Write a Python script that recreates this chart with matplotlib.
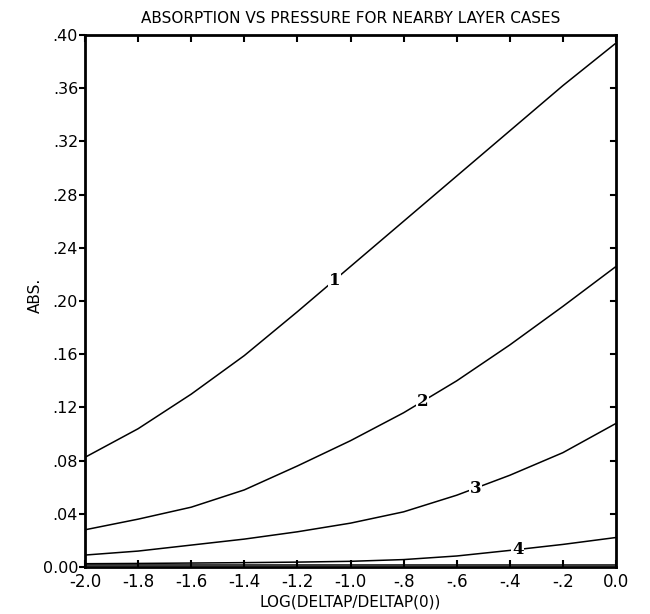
import matplotlib
matplotlib.use("Agg")
import matplotlib.pyplot as plt
import numpy as np

# log(deltap/deltap(0)) grid
log_ratio = [-2.0, -1.8, -1.6, -1.4, -1.2, -1.0, -0.8, -0.6, -0.4, -0.2, 0.0]

# absorption for the four nearby layer cases
abs_case1 = [0.0825, 0.104, 0.130, 0.159, 0.192, 0.226, 0.260, 0.294, 0.328, 0.362, 0.394]
abs_case2 = [0.028, 0.036, 0.045, 0.058, 0.076, 0.095, 0.116, 0.140, 0.167, 0.196, 0.226]
abs_case3 = [0.009, 0.012, 0.0165, 0.021, 0.0265, 0.033, 0.0415, 0.054, 0.069, 0.086, 0.108]
abs_case4 = [0.0025, 0.0027, 0.003, 0.0033, 0.0037, 0.0043, 0.0056, 0.0083, 0.0125, 0.017, 0.0222]
abs_floor = [0.0012, 0.0012, 0.0012, 0.0012, 0.0012, 0.0012, 0.0012, 0.0012, 0.0012, 0.0012, 0.0012]

case_names = ["1", "2", "3", "4"]
label_x = [-1.06, -0.73, -0.53, -0.37]

xticks = [-2.0, -1.8, -1.6, -1.4, -1.2, -1.0, -0.8, -0.6, -0.4, -0.2, 0.0]
xtick_labels = ["-2.0", "-1.8", "-1.6", "-1.4", "-1.2", "-1.0", "-.8", "-.6", "-.4", "-.2", "0.0"]
yticks = [0.0, 0.04, 0.08, 0.12, 0.16, 0.20, 0.24, 0.28, 0.32, 0.36, 0.40]
ytick_labels = ["0.00", ".04", ".08", ".12", ".16", ".20", ".24", ".28", ".32", ".36", ".40"]

plt.rcParams['font.family'] = ['DejaVu Sans']

fig = plt.figure(figsize=(6.5, 6.14), dpi=100)
ax = fig.add_axes([0.1308, 0.0765, 0.8169, 0.8664])

x = np.array(log_ratio)
curves = [abs_case1, abs_case2, abs_case3, abs_case4]
for ys, name, lx in zip(curves, case_names, label_x):
    ax.plot(x, ys, color="black", lw=1.1, solid_capstyle="butt")
    ly = np.interp(lx, x, ys)
    ax.text(lx, ly, name, ha="center", va="center", fontsize=12, fontweight="bold",
            family="DejaVu Serif",
            bbox=dict(boxstyle="square,pad=0.05", fc="white", ec="none"))
ax.plot(x, abs_floor, color="black", lw=1.1)

ax.set_xlim(-2.0, 0.0)
ax.set_ylim(0.0, 0.40)
ax.set_xticks(xticks)
ax.set_xticklabels(xtick_labels)
ax.set_yticks(yticks)
ax.set_yticklabels(ytick_labels)

ax.tick_params(axis="x", direction="in", top=True, length=5, width=1.5, labelsize=12, pad=4)
ax.tick_params(axis="y", direction="out", left=True, right=False, length=4, width=1.5,
               labelsize=11.5, pad=1)
# inward ticks on the right-hand frame
for v in yticks[1:-1]:
    ax.plot([0.0, -0.018], [v, v], color="black", lw=1.5, clip_on=True)

for s in ax.spines.values():
    s.set_linewidth(2)

ax.set_title("ABSORPTION VS PRESSURE FOR NEARBY LAYER CASES", fontsize=11, pad=9)
ax.set_xlabel("LOG(DELTAP/DELTAP(0))", fontsize=11, labelpad=3)
ax.set_ylabel("ABS.", fontsize=11)
ax.yaxis.set_label_coords(-0.079, 0.51)

fig.savefig("out.png", dpi=100)
